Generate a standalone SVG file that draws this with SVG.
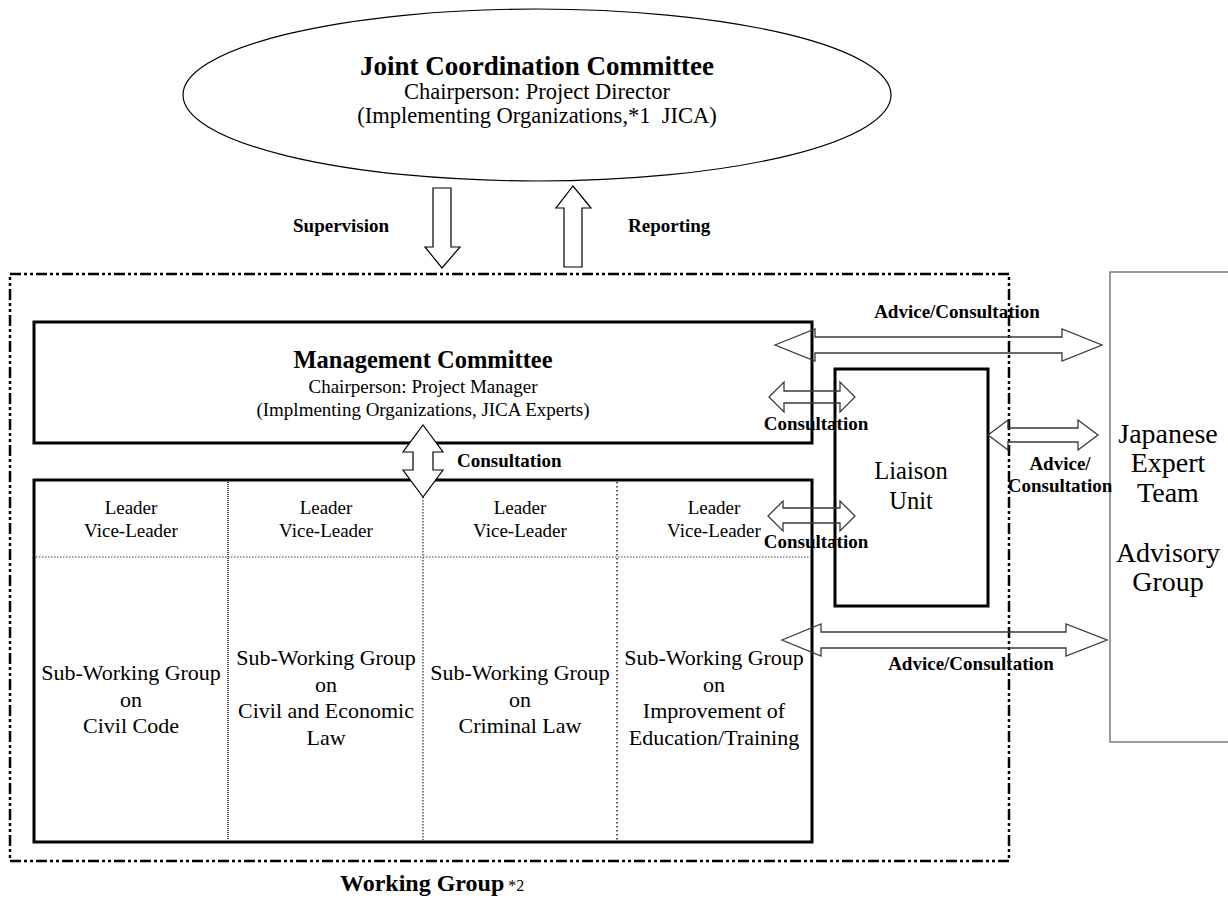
<svg xmlns="http://www.w3.org/2000/svg" width="1228" height="904" viewBox="0 0 1228 904">
<style>
  text { font-family: "Liberation Serif", "Times New Roman", serif; fill: #000; }
  .b { font-weight: bold; }
  .lbl { font-weight: bold; font-size: 19px; }
  .box { fill: none; stroke: #000; stroke-width: 3; }
  .div { stroke: #555; stroke-width: 1.5; stroke-dasharray: 1.5 1.5; }
  .harrow { fill: none; stroke: #3a3a3a; stroke-width: 1.3; stroke-linejoin: miter; }
  .varrow { fill: #fff; stroke: #000; stroke-width: 1.2; }
</style>

<g id="jcc">
  <ellipse cx="537" cy="95" rx="354" ry="86" fill="#fff" stroke="#000" stroke-width="1.2"/>
  <text class="b" x="537" y="75" font-size="27" text-anchor="middle">Joint Coordination Committee</text>
  <text x="537" y="99" font-size="22.5" text-anchor="middle">Chairperson: Project Director</text>
  <text x="537" y="123" font-size="22.5" text-anchor="middle" xml:space="preserve">(Implementing Organizations,*1  JICA)</text>
</g>

<g id="working-group">
  <rect x="10" y="274" width="999" height="587" fill="none" stroke="#000" stroke-width="2.5" stroke-dasharray="11 3 3 3 3 3"/>
  <text x="340" y="891"><tspan class="b" font-size="24">Working Group</tspan><tspan font-size="16"> *2</tspan></text>
</g>

<g id="management-committee">
  <rect class="box" x="34" y="322" width="778" height="121"/>
  <text class="b" x="423" y="368" font-size="24.5" text-anchor="middle">Management Committee</text>
  <text x="423" y="393" font-size="19" text-anchor="middle">Chairperson: Project Manager</text>
  <text x="423" y="416" font-size="19" text-anchor="middle">(Implmenting Organizations, JICA Experts)</text>
</g>

<g id="sub-working-groups">
  <rect class="box" x="34" y="480" width="778" height="362"/>
  <line class="div" x1="228" y1="482" x2="228" y2="840" style="stroke:#111;stroke-dasharray:1 1"/>
  <line class="div" x1="423" y1="497" x2="423" y2="840"/>
  <line class="div" x1="617" y1="482" x2="617" y2="840" style="stroke:#222;stroke-dasharray:1.5 2.5"/>
  <line class="div" x1="36" y1="557" x2="810" y2="557" style="stroke:#888"/>
  <g id="swg-civil-code">
    <text x="131" y="514" font-size="19" text-anchor="middle">Leader</text>
    <text x="131" y="537" font-size="19" text-anchor="middle">Vice-Leader</text>
    <text x="131" y="680" font-size="22" text-anchor="middle">Sub-Working Group</text>
    <text x="131" y="707" font-size="22" text-anchor="middle">on</text>
    <text x="131" y="733" font-size="22" text-anchor="middle">Civil Code</text>
  </g>
  <g id="swg-civil-economic">
    <text x="326" y="514" font-size="19" text-anchor="middle">Leader</text>
    <text x="326" y="537" font-size="19" text-anchor="middle">Vice-Leader</text>
    <text x="326" y="665" font-size="22" text-anchor="middle">Sub-Working Group</text>
    <text x="326" y="692" font-size="22" text-anchor="middle">on</text>
    <text x="326" y="718" font-size="22" text-anchor="middle">Civil and Economic</text>
    <text x="326" y="745" font-size="22" text-anchor="middle">Law</text>
  </g>
  <g id="swg-criminal">
    <text x="520" y="514" font-size="19" text-anchor="middle">Leader</text>
    <text x="520" y="537" font-size="19" text-anchor="middle">Vice-Leader</text>
    <text x="520" y="680" font-size="22" text-anchor="middle">Sub-Working Group</text>
    <text x="520" y="707" font-size="22" text-anchor="middle">on</text>
    <text x="520" y="733" font-size="22" text-anchor="middle">Criminal Law</text>
  </g>
  <g id="swg-education">
    <text x="714" y="514" font-size="19" text-anchor="middle">Leader</text>
    <text x="714" y="537" font-size="19" text-anchor="middle">Vice-Leader</text>
    <text x="714" y="665" font-size="22" text-anchor="middle">Sub-Working Group</text>
    <text x="714" y="692" font-size="22" text-anchor="middle">on</text>
    <text x="714" y="718" font-size="22" text-anchor="middle">Improvement of</text>
    <text x="714" y="745" font-size="22" text-anchor="middle">Education/Training</text>
  </g>
</g>

<g id="liaison-unit">
  <rect class="box" x="835" y="369" width="153" height="237"/>
  <text x="911" y="479" font-size="24.5" text-anchor="middle">Liaison</text>
  <text x="911" y="509" font-size="24.5" text-anchor="middle">Unit</text>
</g>

<g id="japanese-expert-team">
  <rect x="1110" y="272" width="130" height="470" fill="none" stroke="#7a7a7a" stroke-width="1.5"/>
  <text x="1168" y="443" font-size="28" text-anchor="middle">Japanese</text>
  <text x="1168" y="472" font-size="28" text-anchor="middle">Expert</text>
  <text x="1168" y="502" font-size="28" text-anchor="middle">Team</text>
  <text x="1168" y="562" font-size="28" text-anchor="middle">Advisory</text>
  <text x="1168" y="591" font-size="28" text-anchor="middle">Group</text>
</g>

<g id="connectors">
  <polygon class="varrow" points="433,188 451,188 451,247 460,247 442,268 425,247 433,247"/>
  <text class="lbl" x="293" y="232">Supervision</text>
  <polygon class="varrow" points="564,267 582,267 582,208 591,208 573,186 556,208 564,208"/>
  <text class="lbl" x="628" y="232">Reporting</text>

  <polygon class="varrow" points="423,425 443,452 433,452 433,470 443,470 423,497 403,470 413,470 413,452 403,452"/>
  <text class="lbl" x="457" y="467">Consultation</text>

  <polygon class="harrow" points="775,345 815,329 815,337 1062,337 1062,329 1102,345 1062,361 1062,353 815,353 815,361"/>
  <text class="lbl" x="957" y="318" text-anchor="middle">Advice/Consultation</text>

  <polygon class="harrow" points="769,397 784,382 784,391 840,391 840,382 855,397 840,412 840,403 784,403 784,412"/>
  <text class="lbl" x="816" y="430" text-anchor="middle">Consultation</text>

  <polygon class="harrow" points="988,435 1008,420 1008,428 1078,428 1078,420 1098,435 1078,450 1078,442 1008,442 1008,450"/>
  <text class="lbl" x="1060" y="470" text-anchor="middle">Advice/</text>
  <text class="lbl" x="1060" y="492" text-anchor="middle">Consultation</text>

  <polygon class="harrow" points="768,516 783,501 783,508 840,508 840,501 855,516 840,531 840,523 783,523 783,531"/>
  <text class="lbl" x="816" y="548" text-anchor="middle">Consultation</text>

  <polygon class="harrow" points="782,640 821,624 821,632 1066,632 1066,624 1107,640 1066,656 1066,648 821,648 821,656"/>
  <text class="lbl" x="971" y="670" text-anchor="middle">Advice/Consultation</text>
</g>
</svg>
